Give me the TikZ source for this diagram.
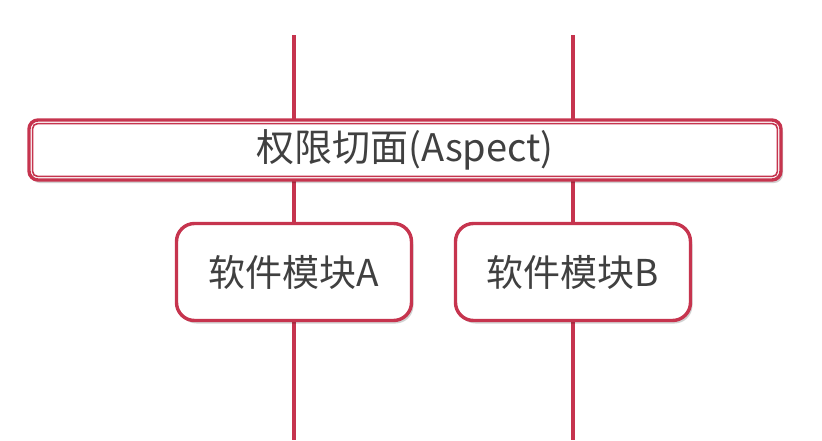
\documentclass[tikz,border=0pt]{standalone}
\usepackage{fontspec}
\newfontfamily\cjk{Noto Sans CJK SC}
\usetikzlibrary{calc,shadows}
\pgfdeclarelayer{background}
\pgfsetlayers{background,main}
\definecolor{crim}{RGB}{198,52,78}
\definecolor{txt}{RGB}{64,64,64}
\tikzset{
  lane/.style={draw=crim,line width=3.2pt},
  aspectbox/.style={draw=crim,line width=3.4pt,fill=white,rounded corners=9pt,
    minimum width=752pt,minimum height=60pt,inner sep=0pt,outer sep=0pt,
    text=txt,font=\cjk\fontsize{38}{45}\selectfont,
    drop shadow={shadow xshift=2pt,shadow yshift=-3pt,opacity=0.18,fill=black}},
  innerline/.style={draw=crim,line width=1.6pt,rounded corners=5pt},
  modbox/.style={draw=crim,line width=3.4pt,fill=white,rounded corners=18pt,
    minimum width=235pt,minimum height=97pt,inner sep=0pt,outer sep=0pt,
    text=txt,font=\cjk\fontsize{37}{44}\selectfont,
    drop shadow={shadow xshift=2pt,shadow yshift=-3pt,opacity=0.18,fill=black}},
}
\begin{document}
\begin{tikzpicture}[x=1pt,y=-1pt]
\useasboundingbox (0,0) rectangle (822,440);
\node[aspectbox] (asp) at (405,150) {权限切面(Aspect)};
\draw[innerline] ($(asp.north west)+(3.6,3.6)$) rectangle ($(asp.south east)+(-3.6,-3.6)$);
\node[modbox] (ma) at (294,272) {软件模块A};
\node[modbox] (mb) at (573,272) {软件模块B};
\coordinate (topA) at (294,35);
\coordinate (botA) at (294,440);
\coordinate (topB) at (573,35);
\coordinate (botB) at (573,440);
\begin{pgfonlayer}{background}
\draw[lane] (topA) -- (botA);
\draw[lane] (topB) -- (botB);
\end{pgfonlayer}
\end{tikzpicture}
\end{document}
